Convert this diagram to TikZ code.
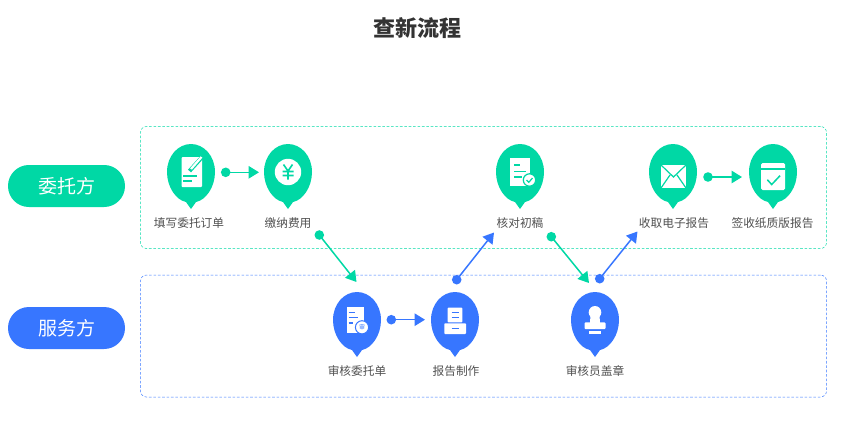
\documentclass[tikz,border=0pt]{standalone}
\usepackage{fontspec}
\setmainfont{Noto Sans CJK SC}
\usepackage{xcolor}
\usetikzlibrary{positioning,arrows.meta,calc}
\definecolor{mintc}{HTML}{00D8A5}
\definecolor{bluec}{HTML}{3776FF}
\definecolor{greytext}{HTML}{505050}
\newcommand{\pinbody}[3]{%
  \fill[#3] ($(#1,#2)+(0,37)$) -- ($(#1,#2)+(-5,30)$)
    .. controls ($(#1,#2)+(-15,28)$) and ($(#1,#2)+(-24,15)$) .. ($(#1,#2)+(-24,0)$)
    .. controls ($(#1,#2)+(-24,-16)$) and ($(#1,#2)+(-13,-28)$) .. ($(#1,#2)+(0,-28)$)
    .. controls ($(#1,#2)+(13,-28)$) and ($(#1,#2)+(24,-16)$) .. ($(#1,#2)+(24,0)$)
    .. controls ($(#1,#2)+(24,15)$) and ($(#1,#2)+(15,28)$) .. ($(#1,#2)+(5,30)$) -- cycle;
}

\begin{document}
\begin{tikzpicture}[
          x=1pt, y=-1pt,
          panel/.style={draw, dash pattern=on 2.6pt off 1.8pt, line width=0.5pt, rounded corners=6pt, minimum width=686pt, minimum height=122pt, inner sep=0pt, outer sep=0pt},
          pill/.style={text=white, font=\fontsize{19}{21}\selectfont, rounded corners=20.9pt, minimum width=117pt, minimum height=42pt, inner sep=0pt},
          lbl/.style={text=greytext, font=\fontsize{11.7}{13}\selectfont, inner sep=0pt},
          dot/.style={circle, minimum size=9.6pt, inner sep=0pt, outer sep=0pt},
          flow/.style={line width=1.5pt, -{Triangle[length=10.5pt,width=12.5pt]}, shorten <=-1pt}
      ]
        \useasboundingbox (0,0) rectangle (859,424);

        \node[font=\fontsize{22}{24}\selectfont\bfseries, text=black!80] (title) at (417.5,28) {查新流程};

        \node[panel, draw=mintc] (clientbox) at (483.5,187.5) {};
        \node[panel, draw=bluec] (servicebox) at (483.5,336) {};
        \node[pill, fill=mintc] (client) at (66.5,186) {\raisebox{-1pt}{委托方}};
        \node[pill, fill=bluec] (service) at (66.5,328) {\raisebox{-2pt}{服务方}};

        \pinbody{191}{172}{mintc}
        \pinbody{288}{172}{mintc}
        \pinbody{520}{172}{mintc}
        \pinbody{673}{172}{mintc}
        \pinbody{773}{172}{mintc}
        \pinbody{357}{320}{bluec}
        \pinbody{455}{320}{bluec}
        \pinbody{595}{320}{bluec}

        % order form
        \begin{scope}[shift={(191,172)}]
          \fill[white, rounded corners=1pt] (-9.5,-15) rectangle (11,15);
          \draw[mintc, line width=4pt] (-1.5,-1) -- (13,-17);
          \draw[white, line width=2.2pt] (0,-3) -- (10.5,-15);
          \draw[mintc, line width=1.5pt] (-8,4) -- (6,4) (-8,9) -- (0.5,9);
        \end{scope}
        % yen coin
        \begin{scope}[shift={(288,172)}]
          \fill[white] (0,0) circle (13.2);
          \draw[mintc, line width=1.6pt] (-4.5,-7.5) -- (0,-1) -- (4.5,-7.5) (0,-1) -- (0,7.5) (-5.5,-0.5) -- (5.5,-0.5) (-5.5,3.5) -- (5.5,3.5);
        \end{scope}
        % draft with tick
        \begin{scope}[shift={(520,172)}]
          \fill[white] (-10.5,-14) rectangle (9.5,13.5);
          \draw[mintc, line width=1.5pt] (-6,-7) -- (0,-7) (-6,-0.5) -- (6,-0.5) (-6,5) -- (2,5);
          \fill[white, draw=mintc, line width=1.2pt] (9.5,8) circle (6.2);
          \draw[mintc, line width=1.2pt] (6.5,8) -- (8.8,10.3) -- (12.5,6);
        \end{scope}
        % envelope
        \begin{scope}[shift={(673,172)}]
          \fill[white] (-12,-7) rectangle (13,16);
          \draw[mintc, line width=1.2pt] (-12,-7) -- (0.5,5) -- (13,-7) (-12,16) -- (-3,3) (13,16) -- (4,3);
        \end{scope}
        % paper copy
        \begin{scope}[shift={(773,172)}]
          \fill[white, rounded corners=1.5pt] (-12,-9) rectangle (12,18);
          \draw[mintc, line width=1.2pt] (-12,-3) -- (12,-3);
          \draw[mintc, line width=1.5pt] (-5.7,7.7) -- (-1.3,12.5) -- (7,3.7);
        \end{scope}
        % review receipt
        \begin{scope}[shift={(357,320)}]
          \fill[white] (-10.3,-13) rectangle (7,13);
          \draw[bluec, line width=1.3pt] (-8.5,-7.5) -- (-2,-7.5) (-8.5,-2.5) -- (1,-2.5) (-8.5,3) -- (-4,3);
          \fill[white, draw=bluec, line width=1pt] (5,7.3) circle (6.6);
          \node[text=bluec, font=\fontsize{6}{6}\selectfont, inner sep=0pt] (stampchar) at (5,7.3) {审};
        \end{scope}
        % report tray
        \begin{scope}[shift={(455,320)}]
          \fill[white, rounded corners=0.8pt] (-7.3,-12.3) rectangle (7.3,2.3);
          \fill[white, rounded corners=0.8pt] (-10.7,3.3) rectangle (11,14);
          \draw[bluec, line width=1.3pt] (-3.5,-7.5) -- (4,-7.5) (-3.5,-2.2) -- (4,-2.2) (-3.5,8.3) -- (4,8.3);
        \end{scope}
        % stamp
        \begin{scope}[shift={(595,320)}]
          \fill[white] (0,-7.7) circle (6.3);
          \fill[white] (-4.5,-5) -- (4.5,-5) -- (5,3) -- (-5,3) -- cycle;
          \fill[white, rounded corners=1pt] (-10.5,2.3) rectangle (10.5,9);
          \fill[white] (-5.8,10.5) rectangle (6,13.5);
        \end{scope}

        \node[lbl] (fillorder) at (189,223) {填写委托订单};
        \node[lbl] (payfee) at (288,223) {缴纳费用};
        \node[lbl] (checkdraft) at (520,223) {核对初稿};
        \node[lbl] (getreport) at (674,223) {收取电子报告};
        \node[lbl] (signpaper) at (772.5,223) {签收纸质版报告};
        \node[lbl] (revieworder) at (357,371) {审核委托单};
        \node[lbl] (makereport) at (456,371) {报告制作};
        \node[lbl] (stampreview) at (595,371) {审核员盖章};

        \node[dot, fill=mintc] (d1) at (225.7,172.3) {};
        \coordinate (e1) at (259,172.3);
        \draw[flow, mintc] (d1) -- (e1);
        \node[dot, fill=mintc] (d2) at (708,177) {};
        \coordinate (e2) at (742,177);
        \draw[flow, mintc] (d2) -- (e2);
        \node[dot, fill=bluec] (d3) at (391.3,319.7) {};
        \coordinate (e3) at (425,319.7);
        \draw[flow, bluec] (d3) -- (e3);
        \node[dot, fill=mintc] (d4) at (319.3,235) {};
        \coordinate (e4) at (356.5,282);
        \draw[flow, mintc] (d4) -- (e4);
        \node[dot, fill=bluec] (d5) at (456.7,279.7) {};
        \coordinate (e5) at (494,232.5);
        \draw[flow, bluec] (d5) -- (e5);
        \node[dot, fill=mintc] (d6) at (551.3,236.7) {};
        \coordinate (e6) at (589,283);
        \draw[flow, mintc] (d6) -- (e6);
        \node[dot, fill=bluec] (d7) at (599.7,278.7) {};
        \coordinate (e7) at (637.5,231.5);
        \draw[flow, bluec] (d7) -- (e7);
      \end{tikzpicture}
\end{document}
